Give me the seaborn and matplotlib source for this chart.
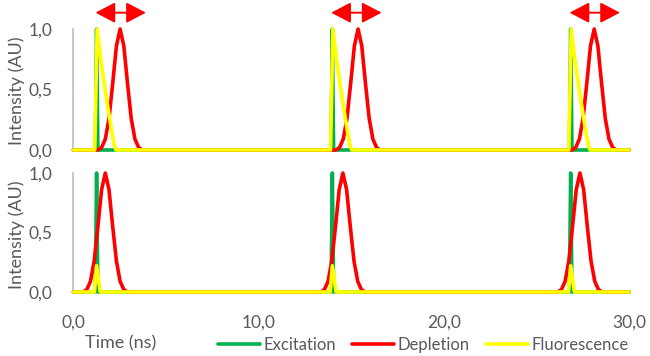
import numpy as np
import pandas as pd
import seaborn as sns
import matplotlib
matplotlib.use("Agg")
import matplotlib.pyplot as plt

# pulse timing (ns)
excitation_times = [1.25, 13.98, 26.85]
depletion_peaks_top = [2.52, 15.37, 28.12]
depletion_peaks_bottom = [1.72, 14.55, 27.35]

# pulse shapes: offsets (ns) from the pulse reference and intensities (AU)
exc_dt = [-0.07, 0.0, 0.07]
exc_val = [0.0, 1.0, 0.0]

dep_dt = [-1.2, -1.0, -0.8, -0.6, -0.4, -0.2, 0.0, 0.2, 0.4, 0.6, 0.8, 1.0, 1.2]
dep_val = [0.0, 0.02, 0.09, 0.26, 0.55, 0.86, 1.0, 0.86, 0.55, 0.26, 0.09, 0.02, 0.0]

fluo_dt_top = [-0.1, 0.03, 0.2, 0.4, 0.6, 0.8, 0.95, 1.05]
fluo_val_top = [0.0, 1.0, 0.78, 0.56, 0.36, 0.17, 0.04, 0.0]

fluo_dt_bottom = [-0.12, 0.0, 0.2]
fluo_val_bottom = [0.0, 0.22, 0.0]

t_range = [0.0, 30.0]
series_names = ["Excitation", "Depletion", "Fluorescence"]
series_colors = ["#00b050", "#ff0000", "#ffff00"]


def pulse_train(centers, dt, val):
    xs, ys = [t_range[0]], [0.0]
    for c in centers:
        xs += [c + d for d in dt]
        ys += list(val)
    xs.append(t_range[1])
    ys.append(0.0)
    return xs, ys


def panel_frame(dep_peaks, fdt, fval):
    parts = []
    for name, (x, y) in zip(series_names, [
        pulse_train(excitation_times, exc_dt, exc_val),
        pulse_train(dep_peaks, dep_dt, dep_val),
        pulse_train(excitation_times, fdt, fval),
    ]):
        parts.append(pd.DataFrame({"time": x, "intensity": y, "series": name}))
    return pd.concat(parts, ignore_index=True)


top_df = panel_frame(depletion_peaks_top, fluo_dt_top, fluo_val_top)
bottom_df = panel_frame(depletion_peaks_bottom, fluo_dt_bottom, fluo_val_bottom)

sns.set_style("white")
plt.rcParams["font.family"] = ["Lato", "DejaVu Sans"]
grey = "#595959"

fig = plt.figure(figsize=(6.5, 3.56), dpi=100)
ax_top = fig.add_axes([0.113, 0.5787, 0.8547, 0.3398])
ax_bot = fig.add_axes([0.113, 0.1798, 0.8547, 0.3342])
palette = dict(zip(series_names, series_colors))

for ax, df in [(ax_top, top_df), (ax_bot, bottom_df)]:
    sns.lineplot(data=df, x="time", y="intensity", hue="series", palette=palette,
                 hue_order=series_names, sort=False, estimator=None, lw=2.6,
                 legend=False, ax=ax)
    for ln in ax.get_lines():
        ln.set_clip_on(False)
        ln.set_solid_joinstyle("round")
    ax.set_xlim(*t_range)
    ax.set_ylim(0, 1)
    ax.set_yticks([0, 0.5, 1.0])
    ax.set_yticklabels(["0,0", "0,5", "1,0"])
    ax.set_ylabel("")
    ax.set_xlabel("")
    for s in ["top", "right", "bottom"]:
        ax.spines[s].set_visible(False)
    ax.spines["left"].set_color("#bfbfbf")
    ax.spines["left"].set_linewidth(1.2)
    ax.spines["left"].set_zorder(0)
    ax.tick_params(axis="both", length=0, labelsize=12.5, labelcolor=grey, pad=15)
    ax.set_facecolor("none")

ax_top.set_xticks([])
ax_bot.set_xticks([0, 10, 20, 30])
ax_bot.set_xticklabels(["0,0", "10,0", "20,0", "30,0"])
ax_bot.tick_params(axis="x", pad=16)

# y axis titles
fig.text(0.026, 0.744, "Intensity (AU)", fontsize=13, color=grey, rotation=90,
         ha="center", va="center")
fig.text(0.026, 0.34, "Intensity (AU)", fontsize=13, color=grey, rotation=90,
         ha="center", va="center")

# double-headed arrows marking the excitation-depletion delay
for t in excitation_times:
    ax_top.annotate("", xy=(t - 0.06, 1.135), xytext=(t + 2.66, 1.135),
                    xycoords="data", annotation_clip=False,
                    arrowprops=dict(arrowstyle="<|-|>,head_length=0.8,head_width=0.42",
                                    mutation_scale=15, color="#ff0000", lw=1.4,
                                    shrinkA=0, shrinkB=0))

fig.text(0.185, 0.035, "Time (ns)", fontsize=13, color=grey, ha="center", va="center")

handles = [plt.Line2D([], [], color=c, lw=2.6) for c in series_colors]
leg = fig.legend(handles, series_names, loc="center right", bbox_to_anchor=(0.99, 0.03),
                 ncol=3, frameon=False, fontsize=12, handlelength=2.5,
                 handletextpad=0.2, columnspacing=1.0)
for txt in leg.get_texts():
    txt.set_color(grey)

fig.savefig("out.png", dpi=100)
